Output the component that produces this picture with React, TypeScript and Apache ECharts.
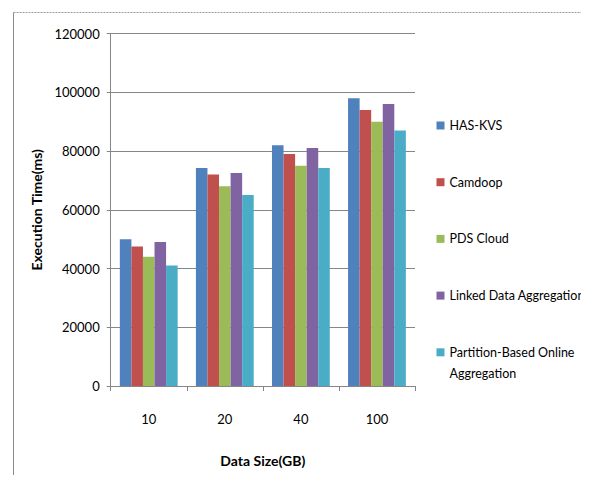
import React, { useEffect, useRef } from "react";
import * as echarts from "echarts";

const categories = ["10", "20", "40", "100"];
const seriesNames = [
  "HAS-KVS",
  "Camdoop",
  "PDS Cloud",
  "Linked Data Aggregation",
  "Partition-Based Online Aggregation",
];
const hasKvs = [50000, 74200, 82000, 98000];
const camdoop = [47500, 72000, 79000, 94000];
const pdsCloud = [44000, 68000, 75000, 90000];
const linkedData = [49000, 72500, 81000, 96000];
const partitionBased = [41000, 65000, 74200, 87000];
const colors = ["#4F81BD", "#C0504D", "#9BBB59", "#8064A2", "#4BACC6"];

const FONT = "Lato, 'Open Sans', sans-serif";

export default function App() {
  const ref = useRef<HTMLDivElement>(null);
  useEffect(() => {
    if (!ref.current) return;
    const chart = echarts.init(ref.current, null, { renderer: "svg" });
    const values = [hasKvs, camdoop, pdsCloud, linkedData, partitionBased];
    chart.setOption({
      animation: false,
      backgroundColor: "#ffffff",
      textStyle: { fontFamily: FONT },
      grid: { left: 110.7, right: 174, top: 33.5, bottom: 97 },
      legend: {
        orient: "vertical",
        left: 436.5,
        top: 119,
        padding: 0,
        itemWidth: 8,
        itemHeight: 8,
        itemGap: 43.7,
        icon: "rect",
        selectedMode: false,
        textStyle: { fontFamily: FONT, fontSize: 12.5, color: "#000" },
        formatter: (name: string) =>
          name === "Partition-Based Online Aggregation" ? "Partition-Based Online" : name,
        data: seriesNames,
      },
      xAxis: {
        type: "category",
        data: categories,
        name: "Data Size(GB)",
        nameLocation: "middle",
        nameGap: 67,
        nameTextStyle: { fontFamily: FONT, fontSize: 14, fontWeight: "bold", color: "#000" },
        axisLine: { lineStyle: { color: "#868686", width: 1 } },
        axisTick: { show: true, length: 5, lineStyle: { color: "#868686" } },
        axisLabel: { margin: 26, fontSize: 13, color: "#000", fontFamily: FONT },
      },
      yAxis: {
        type: "value",
        min: 0,
        max: 120000,
        interval: 20000,
        name: "Execution Time(ms)",
        nameLocation: "middle",
        nameGap: 59,
        nameTextStyle: { fontFamily: FONT, fontSize: 14, fontWeight: "bold", color: "#000" },
        axisLine: { show: true, lineStyle: { color: "#868686", width: 1 } },
        axisTick: { show: true, length: 4, lineStyle: { color: "#868686" } },
        axisLabel: {
          margin: 11,
          fontSize: 13,
          color: "#000",
          fontFamily: FONT,
          formatter: (v: number) => String(v),
        },
        splitLine: { lineStyle: { color: "#868686", width: 1 } },
      },
      series: seriesNames.map((name, i) => ({
        name,
        type: "bar",
        data: values[i],
        barGap: "0%",
        barCategoryGap: "24%",
        itemStyle: { color: colors[i] },
      })),
      graphic: [
        {
          type: "line",
          shape: { x1: 13.5, y1: 12.5, x2: 589, y2: 12.5 },
          style: { stroke: "#9a9a9a", lineWidth: 1, lineDash: [2, 1] },
          silent: true,
        },
        {
          type: "line",
          shape: { x1: 13.5, y1: 12.5, x2: 13.5, y2: 483 },
          style: { stroke: "#8a8a8a", lineWidth: 1 },
          silent: true,
        },
        {
          type: "text",
          left: 449.5,
          top: 366.5,
          style: { text: "Aggregation", fontSize: 12.5, fill: "#000", fontFamily: FONT },
          silent: true,
        },
      ],
    });
    return () => chart.dispose();
  }, []);
  return <div ref={ref} style={{ width: 589, height: 483, margin: -8 }} />;
}
